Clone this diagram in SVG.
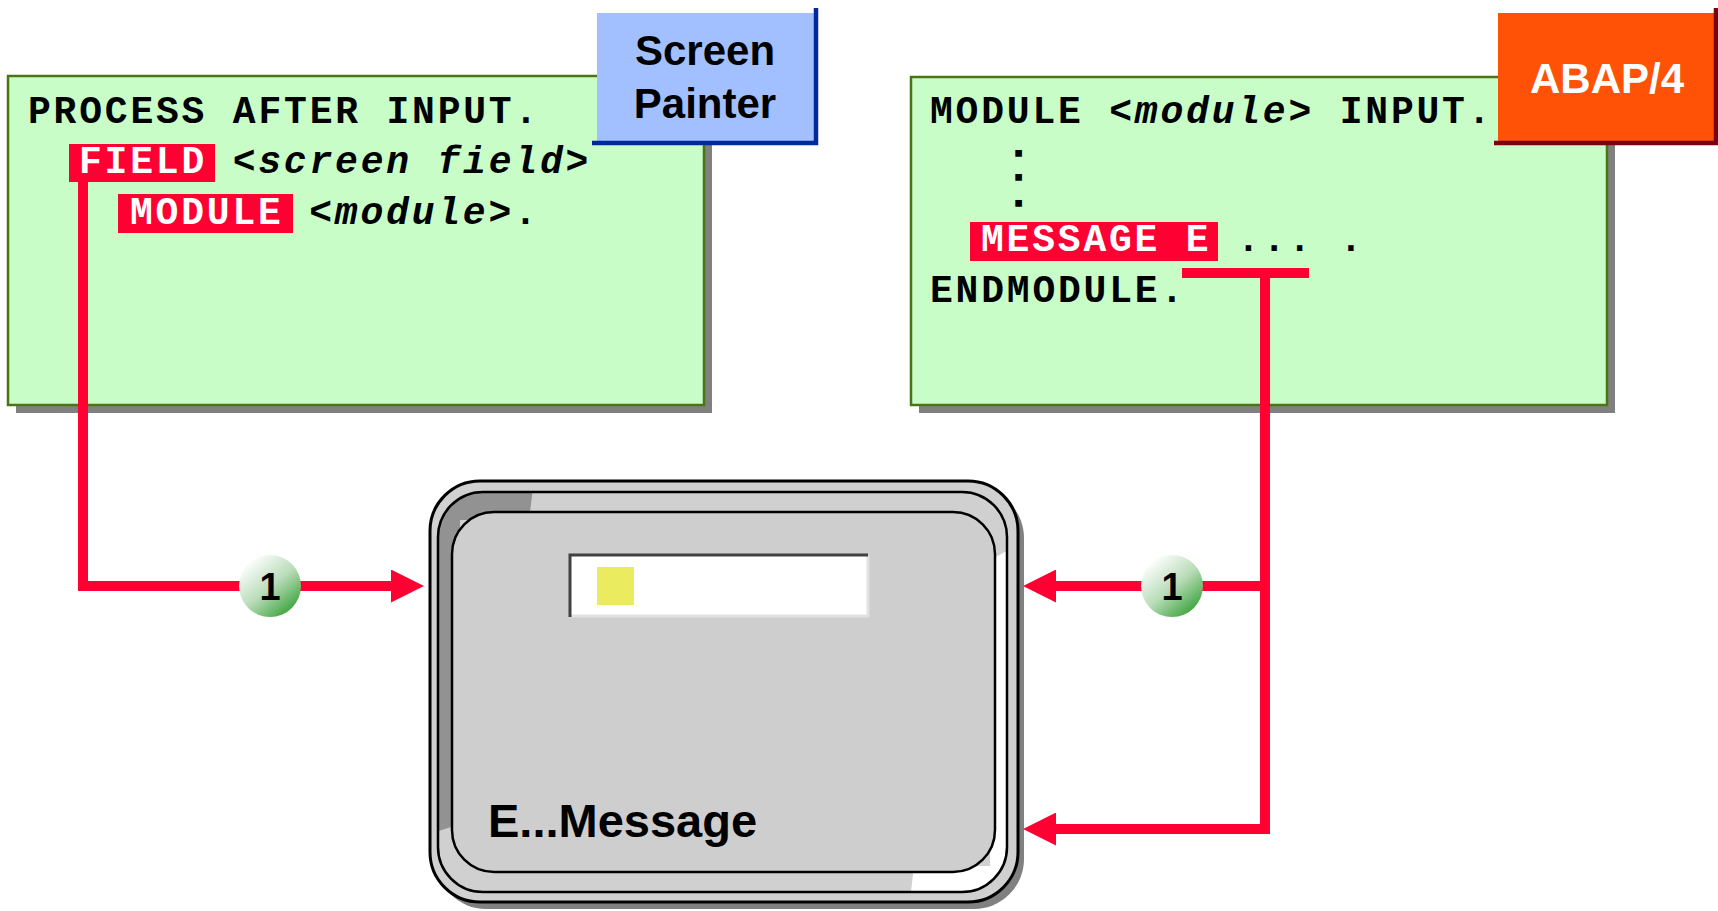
<svg xmlns="http://www.w3.org/2000/svg" width="1718" height="911" viewBox="0 0 1718 911">
  <style>
    .code { font-family: "Liberation Mono", "DejaVu Sans Mono", monospace; font-weight: bold; font-size: 38px; letter-spacing: 2.8px; fill: #000; }
    .kw { fill: #fff; }
    .it { font-style: italic; }
    .hl { fill: #ff0033; }
    .panel { fill: #c8fdc8; stroke: #4b7412; stroke-width: 2.5; }
    .shadow { fill: #808080; }
    .tag { font-family: "Liberation Sans", Arial, sans-serif; font-weight: bold; text-anchor: middle; }
    .ellipsis { font-family: "Liberation Mono", "DejaVu Sans Mono", monospace; font-weight: bold; font-size: 22px; fill: #000; stroke: #000; stroke-width: 3.5; }
    .wire { fill: none; stroke: #ff0033; stroke-width: 10; stroke-linejoin: miter; stroke-linecap: butt; }
    .badge-num { font-family: "Liberation Sans", Arial, sans-serif; font-weight: bold; font-size: 38px; text-anchor: middle; fill: #000; }
  </style>
  <defs>
    <marker id="arrow" markerUnits="userSpaceOnUse" markerWidth="33" markerHeight="33" viewBox="0 0 32 32" refX="1" refY="16" orient="auto">
      <path d="M0,0 L32,16 L0,32 Z" fill="#ff0033"/>
    </marker>
    <linearGradient id="ball" x1="0.15" y1="0.1" x2="0.85" y2="0.95">
      <stop offset="0" stop-color="#ffffff"/>
      <stop offset="0.5" stop-color="#b9dcb9"/>
      <stop offset="1" stop-color="#35a035"/>
    </linearGradient>
    <clipPath id="bezel">
      <rect x="438" y="492" width="569" height="400" rx="45"/>
    </clipPath>
  </defs>

  <rect width="1718" height="911" fill="#ffffff"/>

  <!-- Flow logic panel -->
  <g id="flow-logic">
    <rect class="shadow" x="16" y="84" width="696" height="329"/>
    <rect class="panel" x="8" y="76" width="696" height="329"/>
    <rect class="hl" x="69" y="144" width="146" height="38"/>
    <rect class="hl" x="118" y="194" width="175" height="39"/>
    <text class="code" x="28" y="123">PROCESS AFTER INPUT.</text>
    <text class="code" x="79" y="173"><tspan class="kw">FIELD</tspan> &lt;<tspan class="it">screen field</tspan>&gt;</text>
    <text class="code" x="130" y="224"><tspan class="kw">MODULE</tspan> &lt;<tspan class="it">module</tspan>&gt;.</text>
  </g>

  <!-- Screen Painter tag -->
  <g id="tag-screen-painter">
    <rect x="597" y="13" width="219" height="130" fill="#a2c0ff"/>
    <path d="M816,8 V143 H592" fill="none" stroke="#002a9c" stroke-width="4.5"/>
    <text class="tag" x="705" y="65" font-size="42">Screen</text>
    <text class="tag" x="705" y="118" font-size="42">Painter</text>
  </g>

  <!-- ABAP module panel -->
  <g id="abap-module">
    <rect class="shadow" x="919" y="85" width="696" height="328"/>
    <rect class="panel" x="911" y="77" width="696" height="328"/>
    <rect class="hl" x="970" y="222" width="248" height="39"/>
    <text class="code" x="930" y="123">MODULE &lt;<tspan class="it">module</tspan>&gt; INPUT.</text>
    <text class="ellipsis" x="1012" y="155">.</text>
    <text class="ellipsis" x="1012" y="179">.</text>
    <text class="ellipsis" x="1012" y="205">.</text>
    <text class="code" x="981" y="251"><tspan class="kw">MESSAGE E</tspan> ... .</text>
    <text class="code" x="930" y="302">ENDMODULE.</text>
  </g>

  <!-- ABAP/4 tag -->
  <g id="tag-abap">
    <rect x="1498" y="13" width="220" height="130" fill="#ff5206"/>
    <path d="M1716,8 V143 H1494" fill="none" stroke="#7c0014" stroke-width="4.5"/>
    <text class="tag" x="1607" y="93" font-size="42" fill="#ffffff">ABAP/4</text>
  </g>

  <!-- Screen with message line -->
  <g id="screen">
    <rect x="436" y="488" width="588" height="421" rx="50" fill="#808080"/>
    <rect x="430" y="481" width="588" height="421" rx="50" fill="#d0d0d0" stroke="#000" stroke-width="3"/>
    <rect x="438" y="492" width="569" height="400" rx="45" fill="#d0d0d0"/>
    <g clip-path="url(#bezel)">
      <polygon points="430,480 534,480 529,520 460,520 460,824 430,834" fill="#929292"/>
      <polygon points="990,560 1010,549 1010,900 910,900 914,866 990,866" fill="#ffffff"/>
    </g>
    <rect x="438" y="492" width="569" height="400" rx="45" fill="none" stroke="#000" stroke-width="2.5"/>
    <rect x="452" y="512" width="543" height="360" rx="42" fill="#cecece" stroke="#000" stroke-width="2.5"/>
    <rect x="570" y="555" width="297" height="61" fill="#ffffff"/>
    <path d="M868,616 H570" fill="none" stroke="#e2e2e2" stroke-width="3"/>
    <path d="M868,555 V617" fill="none" stroke="#e2e2e2" stroke-width="3"/>
    <path d="M570,617 V555 H868" fill="none" stroke="#404040" stroke-width="3"/>
    <rect x="597" y="567" width="37" height="38" fill="#ebeb5f"/>
    <text class="tag" x="488" y="837" font-size="47" style="text-anchor:start">E...Message</text>
  </g>

  <!-- Connectors -->
  <g id="connectors">
    <path class="wire" d="M83,182 V586 H392" marker-end="url(#arrow)"/>
    <path class="wire" d="M1182,273 H1309"/>
    <path class="wire" d="M1265,268 V829 H1055" marker-end="url(#arrow)"/>
    <path class="wire" d="M1265,586 H1055" marker-end="url(#arrow)"/>
  </g>

  <!-- Step badges -->
  <g id="badge-left">
    <circle cx="270" cy="586" r="31" fill="url(#ball)"/>
    <text class="badge-num" x="270" y="600">1</text>
  </g>
  <g id="badge-right">
    <circle cx="1172" cy="586" r="31" fill="url(#ball)"/>
    <text class="badge-num" x="1172" y="600">1</text>
  </g>
</svg>
